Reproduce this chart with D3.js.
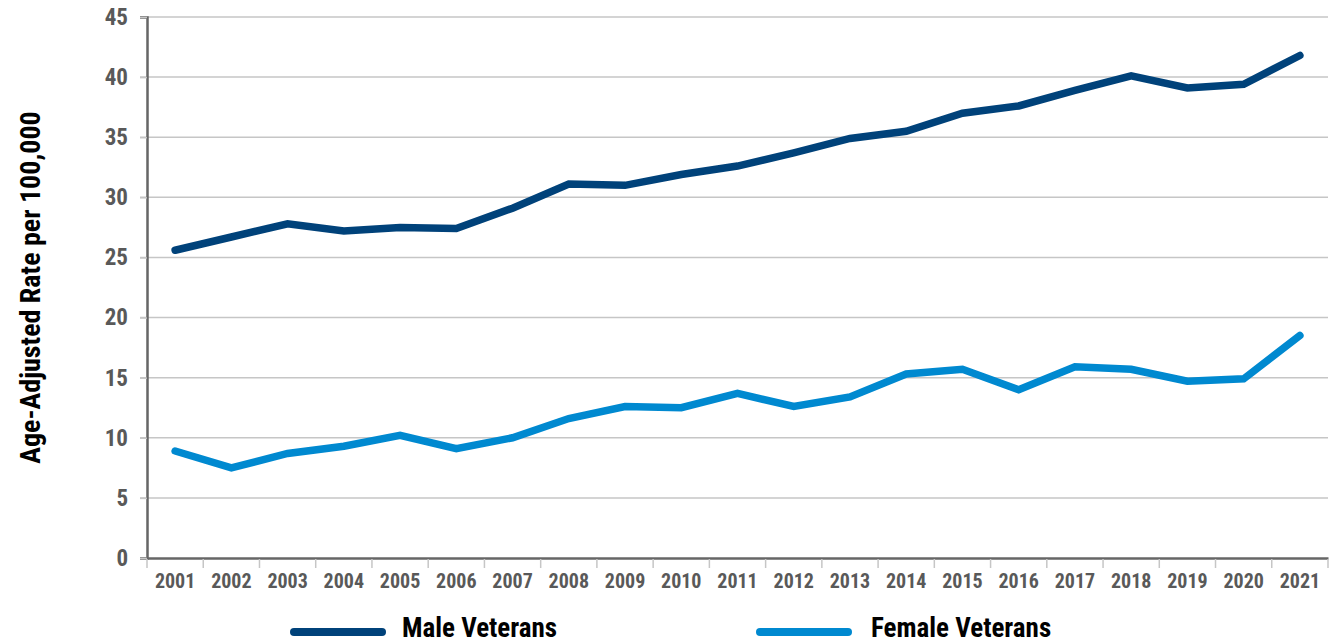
<!DOCTYPE html>
<html><head><meta charset="utf-8">
<script src="https://cdn.jsdelivr.net/npm/d3@7"></script>
<style>
html,body{margin:0;padding:0;background:#fff;}
svg{display:block;}
.cond{font-family:"Liberation Sans Narrow","Roboto Condensed","Open Sans","Liberation Sans",sans-serif;font-weight:bold;}
</style></head>
<body>
<svg id="chart" width="1331" height="644"></svg>
<script>
const years = ["2001","2002","2003","2004","2005","2006","2007","2008","2009","2010","2011","2012","2013","2014","2015","2016","2017","2018","2019","2020","2021"];
const maleVeterans = [25.6,26.7,27.8,27.2,27.5,27.4,29.1,31.1,31.0,31.9,32.6,33.7,34.9,35.5,37.0,37.6,38.9,40.1,39.1,39.4,41.8];
const femaleVeterans = [8.9,7.5,8.7,9.3,10.2,9.1,10.0,11.6,12.6,12.5,13.7,12.6,13.4,15.3,15.7,14.0,15.9,15.7,14.7,14.9,18.5];
const yTicks = [0,5,10,15,20,25,30,35,40,45];
const seriesNames = ["Male Veterans","Female Veterans"];
const seriesColors = ["#00427a","#0089d0"];

(function(){
const svg = d3.select("#chart");
const mLeft = 147, mRight = 1328, mTop = 17, mBottom = 558;
const x = d3.scaleBand().domain(years).range([mLeft, mRight]).padding(0);
const y = d3.scaleLinear().domain([0,45]).range([mBottom, mTop]);

// gridlines
svg.append("g").selectAll("line").data(yTicks.filter(d=>d>0)).join("line")
  .attr("x1", mLeft-7).attr("x2", mRight)
  .attr("y1", d=>y(d)).attr("y2", d=>y(d))
  .attr("stroke", "#c6c6c6").attr("stroke-width", 1.5);

// y axis
const yAxis = svg.append("g").attr("transform", `translate(${mLeft},0)`)
  .call(d3.axisLeft(y).tickValues(yTicks).tickSize(7).tickPadding(12));
yAxis.select(".domain").attr("stroke","#666").attr("stroke-width",2.5);
yAxis.selectAll(".tick line").attr("stroke","#c6c6c6").attr("stroke-width",1.5);
yAxis.selectAll(".tick text").attr("class","cond").attr("fill","#595959").attr("font-size",23)
  .attr("x", -19);

// x axis
const xAxis = svg.append("g").attr("transform", `translate(0,${mBottom})`)
  .call(d3.axisBottom(x).tickSize(0).tickPadding(16));
xAxis.select(".domain").attr("stroke","#666").attr("stroke-width",2.5);
xAxis.selectAll(".tick text").attr("class","cond").attr("fill","#595959").attr("font-size",20);
// band boundary tick marks
const bounds = years.map(d=>x(d)).concat([mRight]);
svg.append("g").selectAll("line").data(bounds).join("line")
  .attr("x1", d=>d).attr("x2", d=>d)
  .attr("y1", mBottom+1).attr("y2", mBottom+10)
  .attr("stroke","#c6c6c6").attr("stroke-width",1.5);

// lines
const line = d3.line().x((d,i)=>x(years[i])+x.bandwidth()/2).y(d=>y(d));
[maleVeterans, femaleVeterans].forEach((s,i)=>{
  svg.append("path").datum(s).attr("d", line)
    .attr("fill","none").attr("stroke", seriesColors[i]).attr("stroke-width", 7.5)
    .attr("stroke-linecap","round").attr("stroke-linejoin","miter");
});

// y title
svg.append("text").attr("class","cond")
  .attr("transform", `translate(40,${(mTop+mBottom)/2}) rotate(-90)`)
  .attr("text-anchor","middle").attr("font-size",28).attr("fill","#000")
  .text("Age-Adjusted Rate per 100,000");

// legend
const legendX = [294, 760];
seriesNames.forEach((n,i)=>{
  const g = svg.append("g").attr("transform", `translate(${legendX[i]},632)`);
  g.append("line").attr("x1",0).attr("x2",88).attr("y1",0).attr("y2",0)
    .attr("stroke", seriesColors[i]).attr("stroke-width", 8).attr("stroke-linecap","round");
  g.append("text").attr("class","cond").attr("x", i===0?108:111).attr("y", 5)
    .attr("font-size",27).attr("fill","#000").text(n);
});
})();
</script>
</body></html>
